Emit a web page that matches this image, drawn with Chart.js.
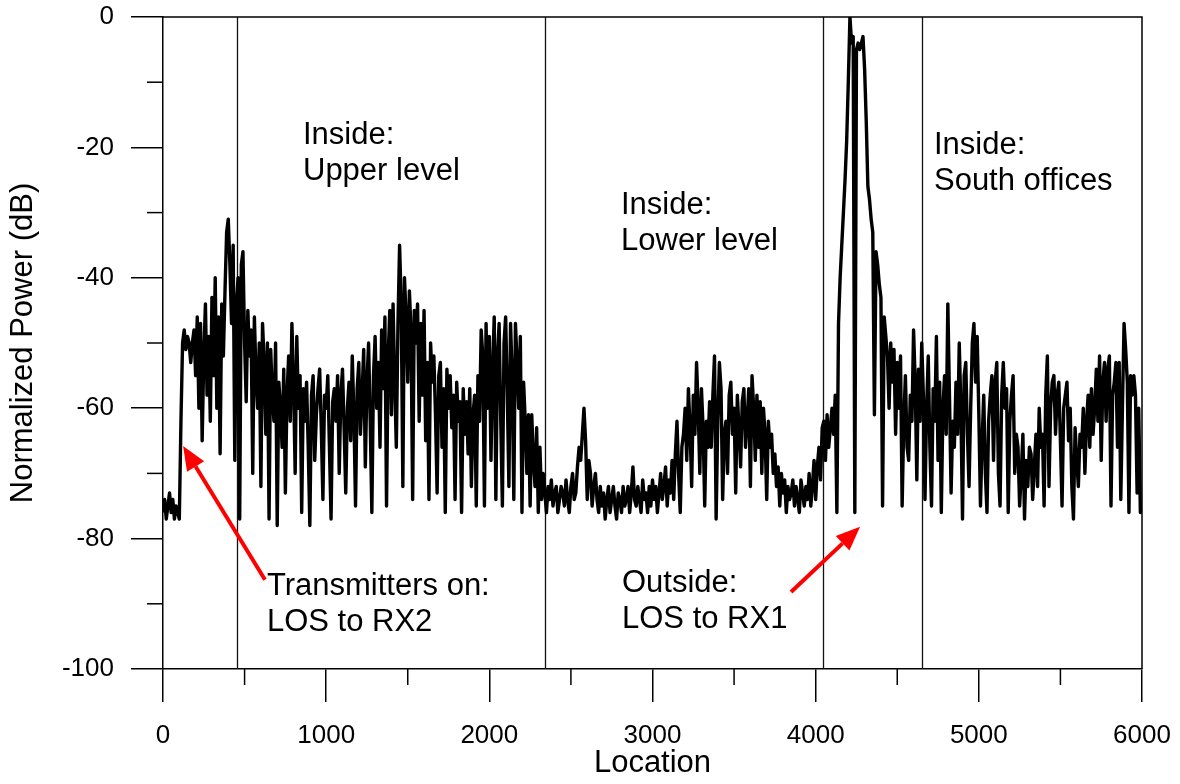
<!DOCTYPE html>
<html>
<head>
<meta charset="utf-8">
<title>Normalized Power vs Location</title>
<script src="https://cdn.jsdelivr.net/npm/chart.js@4.4.1/dist/chart.umd.min.js"></script>
<style>
  html, body { margin: 0; padding: 0; background: #fff; }
  #wrap { width: 1180px; height: 784px; }
</style>
</head>
<body>
<div id="wrap"><canvas id="power-chart" width="1180" height="784"></canvas></div>
<script>
"use strict";

// measurement spacing along the walk (location units)
const locationStep = 10;

// normalized power in dB, one value every locationStep, split by zone
const powerEntrance = [
  -76, -74, -77, -75, -73, -76, -74, -77, -75, -76, -77,
  -62, -50, -48, -51, -49, -50, -53, -50, -48,
  -55, -46, -60, -47, -65, -52, -44, -58, -49, -62,
  -43, -55, -40, -60, -46, -67, -44, -52, -42, -33,
  -31, -38, -47, -35, -68, -44
];
const powerUpperLevel = [
  -40, -77, -38, -36, -50, -59, -45, -52, -48, -70,
  -46, -55, -60, -50, -72, -47, -53, -64, -50, -77,
  -51, -58, -62, -50, -78, -56, -60, -66, -54, -73,
  -58, -52, -62, -47, -56, -70, -49, -60, -55, -76,
  -57, -62, -56, -66, -78, -58, -55, -68, -61, -57,
  -54, -63, -74, -58, -60, -55, -66, -77, -59, -57,
  -62, -55, -70, -58, -54, -63, -73, -60, -56, -65,
  -52, -61, -75, -57, -53, -64, -58, -51, -69, -56,
  -50, -62, -76, -55, -49, -60, -53, -66, -48, -57,
  -46, -75, -52, -45, -61, -44, -56, -66, -47, -35,
  -44, -72, -40, -46, -56, -42, -48, -74, -45, -50,
  -44, -62, -47, -58, -45, -65, -53, -74, -50, -56,
  -52, -61, -73, -55, -53, -66, -57, -76, -54, -60,
  -55, -63, -58, -74, -56, -62, -59, -76, -57, -64,
  -59, -67, -57, -72, -61, -58, -75, -55, -62, -48,
  -52, -75, -47, -60, -49, -68, -54, -46, -74, -52,
  -47, -62, -75, -50, -46, -58, -72, -47, -55, -74,
  -47, -53, -60, -49, -76, -56, -62, -70, -61, -75,
  -61, -68, -72, -63, -76, -66, -74, -70, -73
];
const powerLowerLevel = [
  -76, -72, -74, -71, -75, -73, -72, -76, -74, -72,
  -73, -75, -71, -74, -76, -72, -70, -74, -73, -69,
  -66, -68, -64, -60, -65, -74, -68, -70, -75, -72,
  -70, -74, -76, -72, -75, -73, -77, -74, -72, -76,
  -74, -72, -75, -77, -73, -74, -76, -72, -75, -74,
  -72, -76, -73, -69, -74, -75, -72, -74, -76, -71,
  -74, -73, -76, -72, -75, -71, -74, -72, -76, -73,
  -70, -74, -72, -69, -75, -71, -73, -68, -74, -67,
  -62, -70, -76, -66, -64, -60, -68, -57, -63, -72,
  -58, -64, -53, -60, -70, -57, -63, -75, -62, -66,
  -59, -66, -58, -52, -77, -62, -53, -57, -74, -64,
  -62, -70, -58, -56, -64, -60, -73, -58, -63, -69,
  -59, -57, -66, -62, -57, -72, -55, -60, -68, -58,
  -66, -59, -70, -60, -64, -74, -62, -66, -64, -70,
  -67, -72, -69, -75, -70, -73, -71, -76, -72, -74,
  -73, -71, -75, -72, -74, -76, -71, -73, -75, -72,
  -74, -70, -75, -72, -68, -74, -69, -66, -71, -63
];
const powerOutside = [
  -62, -68, -61, -66, -63, -60, -64, -58, -76, -47,
  -40, -35, -30, -25, -19, -10, 0, -4, -3, -76,
  -5, -4, -5, -4, -3, -8, -16, -26, -28, -31,
  -33, -61, -36, -38, -41, -43, -75, -46, -49, -52,
  -60, -50, -56, -51, -64, -53, -60, -52, -75, -62,
  -55, -66, -68, -58, -62, -48, -56, -71, -54, -62,
  -50
];
const powerSouthOffices = [
  -58, -74, -60, -52, -66, -75, -57, -62, -49, -68,
  -56, -76, -60, -55, -64, -44, -58, -73, -62, -66,
  -56, -64, -50, -60, -77, -55, -53, -64, -72, -60,
  -50, -47, -56, -49, -61, -75, -65, -58, -70, -76,
  -62, -58, -55, -68, -56, -53, -70, -75, -58, -53,
  -60, -57, -76, -62, -58, -55, -70, -64, -66, -75,
  -70, -64, -77, -68, -72, -66, -67, -74, -69, -64,
  -72, -60, -66, -64, -75, -58, -52, -72, -60, -56,
  -55, -64, -58, -56, -65, -75, -60, -58, -56, -65,
  -60, -72, -77, -63, -68, -72, -64, -66, -60, -70,
  -62, -58, -66, -57, -64, -60, -54, -62, -52, -68,
  -56, -53, -62, -54, -52, -75, -58, -56, -53, -66,
  -53, -74, -60, -47, -51, -56, -76, -55, -58, -55,
  -58, -73, -60, -76, -75
];

// axis ticks
const locationTicks = [0, 1000, 2000, 3000, 4000, 5000, 6000];
const locationMinorTicks = [500, 1500, 2500, 3500, 4500, 5500];
const powerTicks = [0, -20, -40, -60, -80, -100];
const powerMinorTicks = [-10, -30, -50, -70, -90];

// where the walk crosses from one zone into the next
const zoneBorders = [455, 2341, 4045, 4652];

const FONT = "'Liberation Sans', Arial, Helvetica, sans-serif";

// text notes, anchored at (location, dB) of the first line's baseline
var notes = [
  { lines: ["Inside:", "Upper level"], loc: 858, db: -19.5 },
  { lines: ["Inside:", "Lower level"], loc: 2807, db: -30.2 },
  { lines: ["Inside:", "South offices"], loc: 4725, db: -21.0 },
  { lines: ["Transmitters on:", "LOS to RX2"], loc: 637, db: -88.7 },
  { lines: ["Outside:", "LOS to RX1"], loc: 2813, db: -88.2 }
];

// red pointers: tail -> tip
var pointers = [
  { from: [625, -86.3], to: [123, -65.8] },
  { from: [3849, -88.2], to: [4272, -78.2] }
];

var allPower = [].concat(powerEntrance, powerUpperLevel, powerLowerLevel, powerOutside, powerSouthOffices);
var points = allPower.map(function (v, i) {
  return { x: i * locationStep, y: v };
});

function drawArrow(ctx, x0, y0, x1, y1) {
  var ang = Math.atan2(y1 - y0, x1 - x0);
  var headLen = 24, headHalf = 10;
  var bx = x1 - headLen * Math.cos(ang), by = y1 - headLen * Math.sin(ang);
  ctx.beginPath();
  ctx.moveTo(x0, y0);
  ctx.lineTo(bx, by);
  ctx.stroke();
  ctx.beginPath();
  ctx.moveTo(x1, y1);
  ctx.lineTo(bx + headHalf * Math.sin(ang), by - headHalf * Math.cos(ang));
  ctx.lineTo(bx - headHalf * Math.sin(ang), by + headHalf * Math.cos(ang));
  ctx.closePath();
  ctx.fill();
}

var decorPlugin = {
  id: "decor",
  beforeDatasetsDraw: function (chart) {
    var ctx = chart.ctx, area = chart.chartArea, xs = chart.scales.x;
    ctx.save();
    ctx.strokeStyle = "#111";
    ctx.lineWidth = 1.3;
    zoneBorders.forEach(function (loc) {
      var px = Math.round(xs.getPixelForValue(loc)) + 0.5;
      ctx.beginPath();
      ctx.moveTo(px, area.top);
      ctx.lineTo(px, area.bottom);
      ctx.stroke();
    });
    ctx.restore();
  },
  afterDatasetsDraw: function (chart) {
    var ctx = chart.ctx, area = chart.chartArea;
    var xs = chart.scales.x, ys = chart.scales.y;
    ctx.save();

    // closing frame on top and right
    ctx.strokeStyle = "#000";
    ctx.lineWidth = 1.5;
    ctx.beginPath();
    ctx.moveTo(area.left, area.top);
    ctx.lineTo(area.right, area.top);
    ctx.lineTo(area.right, area.bottom);
    ctx.stroke();

    // minor ticks, half the major length
    locationMinorTicks.forEach(function (v) {
      var px = xs.getPixelForValue(v);
      ctx.beginPath();
      ctx.moveTo(px, area.bottom);
      ctx.lineTo(px, area.bottom + 16);
      ctx.stroke();
    });
    powerMinorTicks.forEach(function (v) {
      var py = ys.getPixelForValue(v);
      ctx.beginPath();
      ctx.moveTo(area.left - 16, py);
      ctx.lineTo(area.left, py);
      ctx.stroke();
    });

    // zone notes
    ctx.fillStyle = "#000";
    ctx.font = "31px " + FONT;
    ctx.textAlign = "left";
    ctx.textBaseline = "alphabetic";
    notes.forEach(function (n) {
      var x = xs.getPixelForValue(n.loc), y = ys.getPixelForValue(n.db);
      n.lines.forEach(function (t, k) {
        ctx.fillText(t, x, y + k * 36);
      });
    });

    // pointers
    ctx.strokeStyle = "#f00";
    ctx.fillStyle = "#f00";
    ctx.lineWidth = 4;
    ctx.lineCap = "butt";
    pointers.forEach(function (p) {
      drawArrow(ctx,
        xs.getPixelForValue(p.from[0]), ys.getPixelForValue(p.from[1]),
        xs.getPixelForValue(p.to[0]), ys.getPixelForValue(p.to[1]));
    });
    ctx.restore();
  }
};

var ctx = document.getElementById("power-chart");
new Chart(ctx, {
  type: "line",
  data: {
    datasets: [{
      data: points,
      borderColor: "#000",
      borderWidth: 3.4,
      borderJoinStyle: "round",
      pointRadius: 0,
      fill: false,
      tension: 0
    }]
  },
  options: {
    responsive: false,
    animation: false,
    layout: { padding: { top: 17, right: 38, left: 0, bottom: 0 } },
    plugins: { legend: { display: false }, tooltip: { enabled: false } },
    scales: {
      x: {
        type: "linear",
        min: 0,
        max: 6000,
        afterBuildTicks: function (s) {
          s.ticks = locationTicks.map(function (v) { return { value: v }; });
        },
        afterFit: function (s) {
          // fixed band under the plot; edge labels may overhang freely
          s.height = 115;
          s.paddingLeft = 0;
          s.paddingRight = 0;
        },
        ticks: {
          color: "#000",
          font: { family: FONT, size: 26 },
          padding: 18,
          maxRotation: 0,
          autoSkip: false,
          callback: function (v) { return String(v); }
        },
        grid: { drawOnChartArea: false, drawTicks: true, tickLength: 33, color: "#000", lineWidth: 1.5 },
        border: { display: true, color: "#000", width: 1.5 },
        title: {
          display: true,
          text: "Location",
          color: "#000",
          font: { family: FONT, size: 31 },
          padding: { top: 0, bottom: 2 }
        }
      },
      y: {
        type: "linear",
        min: -100,
        max: 0,
        afterBuildTicks: function (s) {
          s.ticks = powerTicks.map(function (v) { return { value: v }; });
        },
        afterFit: function (s) {
          s.width = 163;
          s.paddingTop = 0;
          s.paddingBottom = 0;
        },
        ticks: {
          color: "#000",
          font: { family: FONT, size: 26 },
          padding: 17,
          autoSkip: false,
          callback: function (v) { return String(v); }
        },
        grid: { drawOnChartArea: false, drawTicks: true, tickLength: 32, color: "#000", lineWidth: 1.5 },
        border: { display: true, color: "#000", width: 1.5 },
        title: {
          display: true,
          text: "Normalized Power (dB)",
          color: "#000",
          font: { family: FONT, size: 31 },
          padding: { top: 5, bottom: 0 }
        }
      }
    }
  },
  plugins: [decorPlugin]
});
</script>
</body>
</html>
